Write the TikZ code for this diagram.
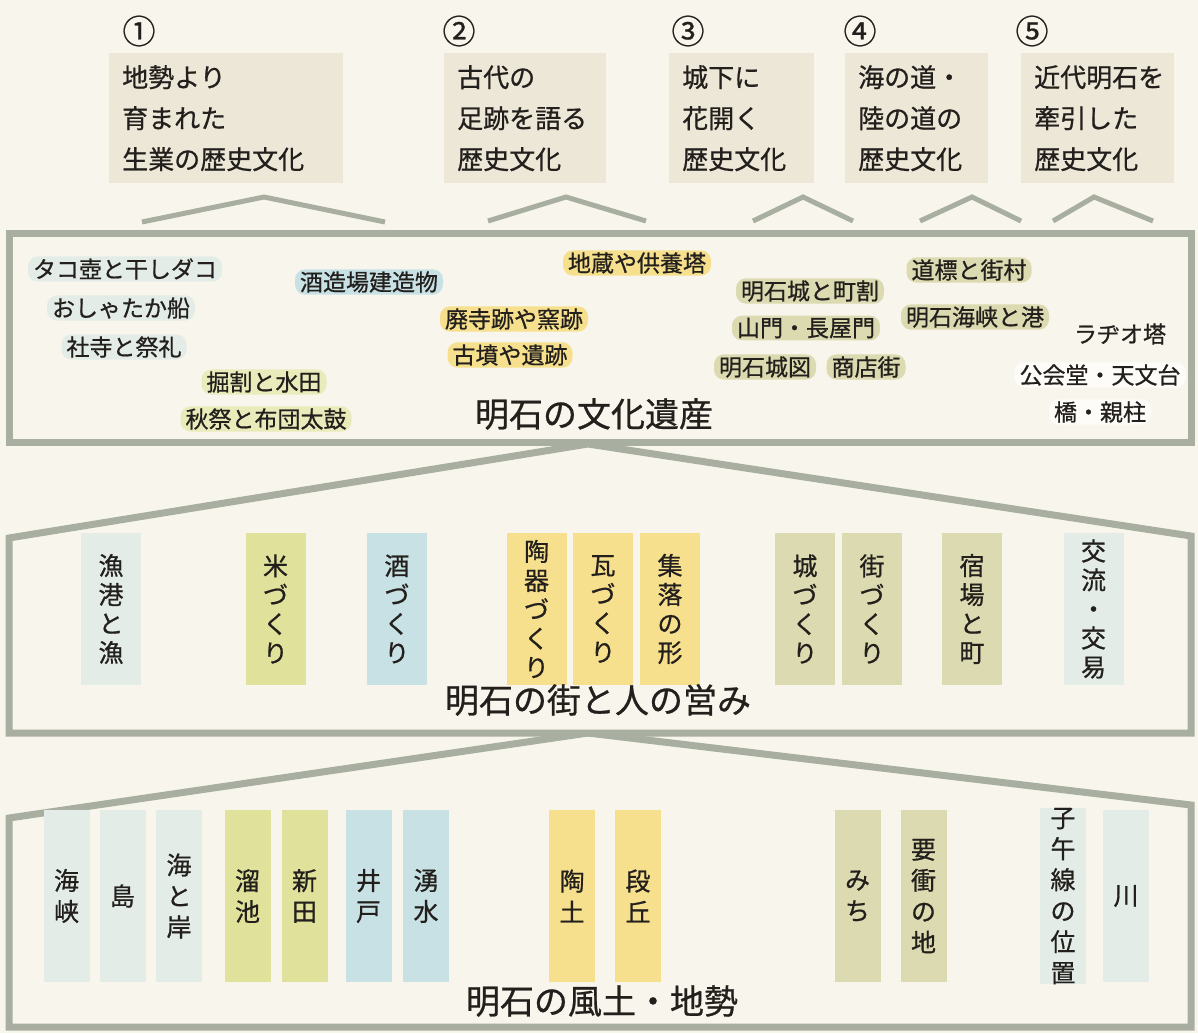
\documentclass[tikz,border=0pt]{standalone}
\usepackage{fontspec}
\newfontfamily\jp[FakeBold=0.7]{Noto Sans CJK JP}
\definecolor{bgc}{HTML}{F8F6EC}
\definecolor{beige}{HTML}{ECE7D7}
\definecolor{frame}{HTML}{A8AFA1}
\definecolor{pale}{HTML}{E3ECE7}
\definecolor{blu}{HTML}{C8E1E4}
\definecolor{ygr}{HTML}{E0E29C}
\definecolor{yel}{HTML}{F6DF8D}
\definecolor{kha}{HTML}{DCDAB0}
\definecolor{ink}{HTML}{221F1C}
\begin{document}
\begin{tikzpicture}[x=1pt,y=-1pt,
  num/.style={font=\jp\fontsize{33pt}{33pt}\selectfont, text=ink, inner sep=0},
  tbox/.style={fill=beige, anchor=north west, minimum height=130pt, align=left, inner xsep=13pt, inner ysep=0pt, font=\jp\fontsize{26pt}{41pt}\selectfont, text=ink},
  chev/.style={draw=frame, line width=5pt},
  band/.style={draw=frame, fill=bgc, line width=7pt},
  item/.style={font=\jp\fontsize{23pt}{26pt}\selectfont, text=ink, rounded corners=10pt, inner xsep=5pt, inner ysep=2pt},
  big/.style={font=\jp\fontsize{34pt}{34pt}\selectfont, text=ink, inner sep=0},
  mcol/.style={minimum width=60pt, minimum height=152pt, inner sep=0pt, align=center, font=\jp\fontsize{25pt}{29pt}\selectfont, text=ink},
  bcol/.style={minimum width=46pt, minimum height=172pt, inner sep=0pt, align=center, font=\jp\fontsize{25pt}{31pt}\selectfont, text=ink}
]
\useasboundingbox (0,0) rectangle (1198,1033);
\fill[bgc] (0,0) rectangle (1198,1033);

% circled numbers
\node[num] (n1) at (139,31) {①};
\node[num] (n2) at (459,31) {②};
\node[num] (n3) at (688,31) {③};
\node[num] (n4) at (860,31) {④};
\node[num] (n5) at (1032,31) {⑤};

% title boxes
\node[tbox, text width=208pt] (t1) at (109,53) {地勢より\\育まれた\\生業の歴史文化};
\node[tbox, text width=136pt] (t2) at (444,53) {古代の\\足跡を語る\\歴史文化};
\node[tbox, text width=119pt] (t3) at (669,53) {城下に\\花開く\\歴史文化};
\node[tbox, text width=117pt] (t4) at (845,53) {海の道・\\陸の道の\\歴史文化};
\node[tbox, text width=127pt] (t5) at (1021,53) {近代明石を\\牽引した\\歴史文化};

% chevrons
\draw[chev] (142,222) -- (264,197) -- (385,222);
\draw[chev] (488,221) -- (566,197) -- (646,221);
\draw[chev] (753,221) -- (803,197) -- (853,221);
\draw[chev] (920,221) -- (972,197) -- (1021,221);
\draw[chev] (1053,221) -- (1094,197) -- (1153,221);

% bands
\draw[band] (9,818) -- (588,733) -- (1191,805) -- (1191,1027) -- (9,1027) -- cycle;
\draw[band] (9,538) -- (588,444) -- (1191,536) -- (1191,733) -- (9,733) -- cycle;
\draw[band] (9,233) rectangle (1191,442);

% top box items
\node[item, fill=pale] (h1) at (125,269) {タコ壺と干しダコ};
\node[item, fill=pale] (h2) at (121,308) {おしゃたか船};
\node[item, fill=pale] (h3) at (124,347) {社寺と祭礼};
\node[item, fill=blu] (h4) at (369,282) {酒造場建造物};
\node[item, fill=ygr!70!white] (h5) at (264,382) {掘割と水田};
\node[item, fill=ygr!70!white] (h6) at (266,419) {秋祭と布団太鼓};
\node[item, fill=yel] (h7) at (637,263) {地蔵や供養塔};
\node[item, fill=yel] (h8) at (514,319) {廃寺跡や窯跡};
\node[item, fill=yel] (h9) at (510,355) {古墳や遺跡};
\node[item, fill=kha] (h10) at (810,291) {明石城と町割};
\node[item, fill=kha] (h11) at (806,328) {山門・長屋門};
\node[item, fill=kha] (h12) at (765,367) {明石城図};
\node[item, fill=kha] (h13) at (866,367) {商店街};
\node[item, fill=kha] (h14) at (969,270) {道標と街村};
\node[item, fill=kha] (h15) at (975,317) {明石海峡と港};
\node[item] (h16) at (1120,334) {ラヂオ塔};
\node[item, fill=white!70!bgc] (h17) at (1100,375) {公会堂・天文台};
\node[item, fill=white!70!bgc] (h18) at (1100,412) {橋・親柱};
\node[big] (g1) at (594,414) {明石の文化遺産};

% middle band columns
\node[mcol, fill=pale] (m1) at (111,609) {漁\\港\\と\\漁};
\node[mcol, fill=ygr] (m2) at (275.5,609) {米\\づ\\く\\り};
\node[mcol, fill=blu] (m3) at (397,609) {酒\\づ\\く\\り};
\node[mcol, fill=yel] (m4) at (536.5,609) {陶\\器\\づ\\く\\り};
\node[mcol, fill=yel] (m5) at (603,609) {瓦\\づ\\く\\り};
\node[mcol, fill=yel] (m6) at (670,609) {集\\落\\の\\形};
\node[mcol, fill=kha] (m7) at (805,609) {城\\づ\\く\\り};
\node[mcol, fill=kha] (m8) at (872,609) {街\\づ\\く\\り};
\node[mcol, fill=kha] (m9) at (972,609) {宿\\場\\と\\町};
\node[mcol, fill=pale] (m10) at (1093.5,609) {交\\流\\・\\交\\易};
\node[big] (g2) at (598,700) {明石の街と人の営み};

% bottom band columns
\node[bcol, fill=pale] (b1) at (66.5,896) {海\\峡};
\node[bcol, fill=pale] (b2) at (122.5,896) {島};
\node[bcol, fill=pale] (b3) at (179,896) {海\\と\\岸};
\node[bcol, fill=ygr] (b4) at (247.5,896) {溜\\池};
\node[bcol, fill=ygr] (b5) at (304.5,896) {新\\田};
\node[bcol, fill=blu] (b6) at (368.5,896) {井\\戸};
\node[bcol, fill=blu] (b7) at (426,896) {湧\\水};
\node[bcol, fill=yel] (b8) at (572,896) {陶\\土};
\node[bcol, fill=yel] (b9) at (638,896) {段\\丘};
\node[bcol, fill=kha] (b10) at (857.5,896) {み\\ち};
\node[bcol, fill=kha] (b11) at (923.5,896) {要\\衝\\の\\地};
\node[bcol, fill=pale] (b12) at (1063,896) {子\\午\\線\\の\\位\\置};
\node[bcol, fill=pale] (b13) at (1126,896) {川};
\node[big] (g3) at (602,1001) {明石の風土・地勢};
\end{tikzpicture}
\end{document}
